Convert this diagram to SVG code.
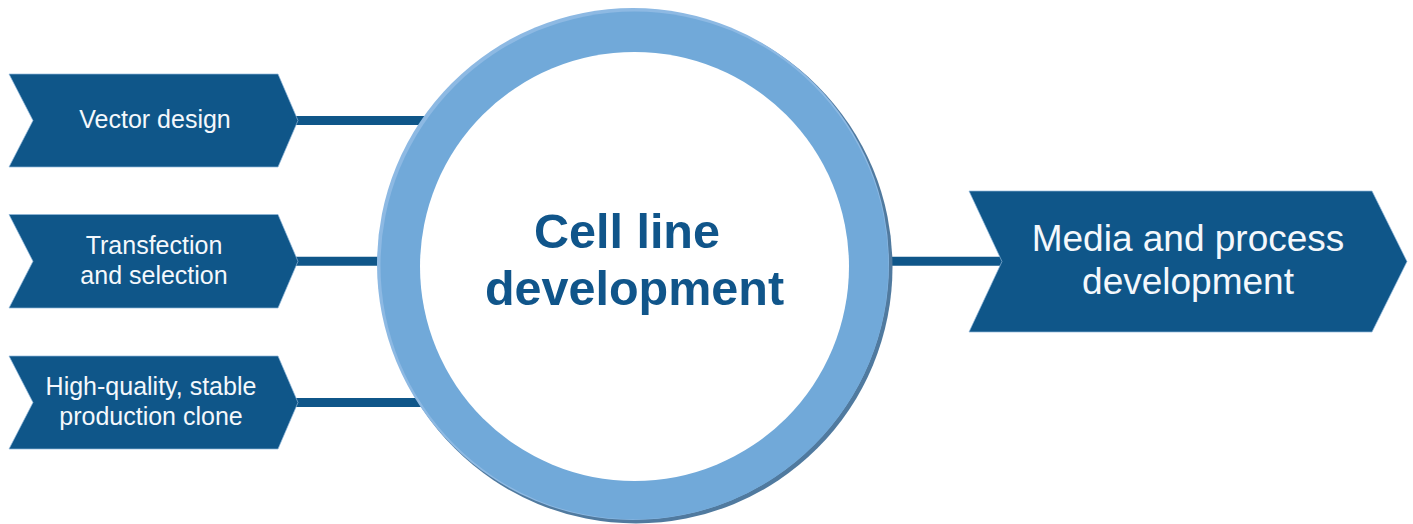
<svg xmlns="http://www.w3.org/2000/svg" width="1413" height="524" viewBox="0 0 1413 524">
<style>
.chev{fill:#0f5689;stroke:#8fb6da;stroke-width:1;stroke-opacity:0.7}
.lbl{font-family:"Liberation Sans",Arial,sans-serif;font-size:25px;fill:#f4f8fc;text-anchor:middle}
.big{font-family:"Liberation Sans",Arial,sans-serif;font-size:37px;fill:#f4f8fc;text-anchor:middle}
.ctr{font-family:"Liberation Sans",Arial,sans-serif;font-size:48.5px;font-weight:bold;fill:#10558a;text-anchor:middle}
.conn{stroke:#0f5689;stroke-width:9;fill:none}
</style>
<rect width="1413" height="524" fill="#ffffff"/>
<g id="connectors">
<line class="conn" x1="296" y1="120.5" x2="440" y2="120.5"/>
<line class="conn" x1="296" y1="261.3" x2="440" y2="261.3"/>
<line class="conn" x1="296" y1="402.5" x2="440" y2="402.5"/>
<line class="conn" x1="860" y1="261.3" x2="1004" y2="261.3"/>
</g>
<g id="node-vector-design">
<polygon class="chev" points="9,74 278,74 298,120.5 278,167 9,167 33,120.5"/>
<text class="lbl" x="155" y="128">Vector design</text>
</g>
<g id="node-transfection">
<polygon class="chev" points="9,214.5 278,214.5 298,261.3 278,308 9,308 33,261.3"/>
<text class="lbl" x="154" y="254">Transfection</text>
<text class="lbl" x="154" y="283.5">and selection</text>
</g>
<g id="node-clone">
<polygon class="chev" points="9,356 278,356 298,402.5 278,449 9,449 33,402.5"/>
<text class="lbl" x="151" y="395">High-quality, stable</text>
<text class="lbl" x="151" y="425">production clone</text>
</g>
<g id="node-cell-line">
<circle cx="636" cy="267" r="256.5" fill="#507a9f"/>
<circle cx="633" cy="264" r="256" fill="#8db9e3"/>
<circle cx="634.5" cy="265.5" r="254" fill="#71a9d9"/>
<circle cx="634.5" cy="266.5" r="214.5" fill="#ffffff"/>
<text class="ctr" x="627" y="248">Cell line</text>
<text class="ctr" x="634.5" y="305">development</text>
</g>
<g id="node-media">
<polygon class="chev" points="969,191 1372,191 1407,261.5 1372,332 969,332 1002,261.5"/>
<text class="big" x="1188" y="251">Media and process</text>
<text class="big" x="1188" y="294">development</text>
</g>
</svg>
